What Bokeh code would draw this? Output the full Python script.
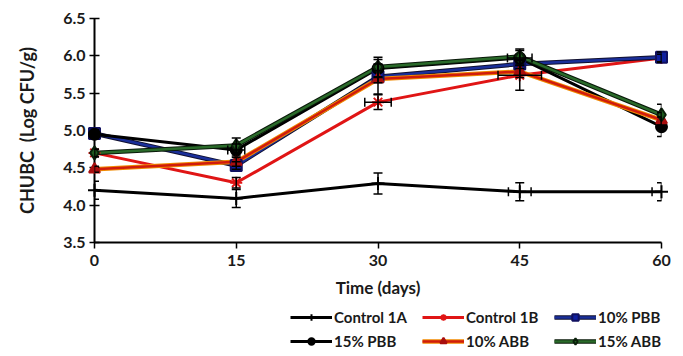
from bokeh.plotting import figure
from bokeh.layouts import column
from bokeh.models import (ColumnDataSource, Whisker, TeeHead, FixedTicker,
                          PrintfTickFormatter, Legend, LegendItem, Range1d)
from bokeh.embed import file_html
from bokeh.resources import INLINE

days = [0, 15, 30, 45, 60]
x_ticks = [0, 15, 30, 45, 60]
y_ticks = [3.5, 4.0, 4.5, 5.0, 5.5, 6.0, 6.5]

series_names = ["Control 1A", "Control 1B", "10% PBB", "15% PBB", "10% ABB", "15% ABB"]
control_1a = [4.20, 4.09, 4.29, 4.18, 4.18]
control_1b = [4.70, 4.30, 5.38, 5.74, 5.97]
pbb_10 = [4.96, 4.53, 5.72, 5.89, 5.98]
pbb_15 = [4.95, 4.74, 5.83, 5.97, 5.05]
abb_10 = [4.48, 4.58, 5.69, 5.79, 5.14]
abb_15 = [4.70, 4.80, 5.85, 5.99, 5.21]

err_1a = [0.12, 0.12, 0.14, 0.12, 0.12]
err_1b = [0.05, 0.07, 0.10, 0.20, 0.05]
err_p10 = [0.05, 0.05, 0.08, 0.06, 0.07]
err_p15 = [0.06, 0.08, 0.12, 0.10, 0.13]
err_a10 = [0.04, 0.06, 0.20, 0.08, 0.10]
err_a15 = [0.05, 0.10, 0.13, 0.10, 0.14]

xerr_1a = [0.0, 0.0, 0.0, 1.2, 1.0]
xerr_1b = [0.0, 0.0, 1.4, 2.3, 0.0]
xerr_p15 = [0.0, 0.9, 0.0, 1.3, 0.0]

FONT = "Lato"

p = figure(width=683, height=300, output_backend="svg", toolbar_location=None,
           x_range=Range1d(0, 60), y_range=Range1d(3.5, 6.5),
           min_border_left=94, min_border_right=22, min_border_top=18,
           min_border_bottom=58)
p.outline_line_color = None
p.xgrid.visible = False
p.ygrid.visible = False
p.background_fill_color = "white"
p.border_fill_color = "white"

p.xaxis.ticker = FixedTicker(ticks=x_ticks)
p.yaxis.ticker = FixedTicker(ticks=y_ticks)
p.yaxis.formatter = PrintfTickFormatter(format="%.1f")
for ax in (p.xaxis, p.yaxis):
    ax.axis_line_color = "black"
    ax.axis_line_width = 2
    ax.major_tick_line_color = "black"
    ax.major_tick_line_width = 1.5
    ax.minor_tick_line_color = None
    ax.major_label_text_font = FONT
    ax.major_label_text_font_size = "16px"
    ax.major_label_text_font_style = "bold"
    ax.major_label_text_color = "#1a1a1a"
    ax.axis_label_text_font = FONT
    ax.axis_label_text_font_size = "17px"
    ax.axis_label_text_font_style = "bold"
    ax.axis_label_text_color = "#1a1a1a"
p.yaxis.axis_label_text_font_size = "18px"
p.yaxis.major_tick_in = 5
p.yaxis.major_tick_out = 5
p.xaxis.major_tick_in = 0
p.xaxis.major_tick_out = 6
p.yaxis.major_label_standoff = 4
p.xaxis.major_label_standoff = 6
p.xaxis.axis_label = "Time (days)"
p.yaxis.axis_label = "CHUBC\u00a0\u00a0(Log CFU/g)"
p.xaxis.axis_label_standoff = 8
p.yaxis.axis_label_standoff = 22

specs = [
    (control_1a, err_1a, xerr_1a, "black", None, "cross", "black", "black", 13),
    (control_1b, err_1b, xerr_1b, "#e01515", None, "asterisk", "#e01515", "#e01515", 12),
    (pbb_10, err_p10, None, "#1a2f9a", "#101030", "square", "#1020a0", "#101060", 11),
    (pbb_15, err_p15, xerr_p15, "black", None, "circle", "black", "black", 11),
    (abb_10, err_a10, None, "#d01c0c", "#f08a00", "triangle", "#a80e0e", "#a80e0e", 11),
    (abb_15, err_a15, None, "#2a6a2a", "#0a1a0a", "diamond", "#1e5a1e", "#0a200a", 13),
]

# legend-only strip below the chart (its ranges show none of the data)
lg = figure(width=683, height=56, output_backend="svg", toolbar_location=None,
            x_range=Range1d(1000, 1001), y_range=Range1d(1000, 1001),
            x_axis_location=None, y_axis_location=None,
            min_border_left=0, min_border_right=0, min_border_top=0, min_border_bottom=0)
lg.outline_line_color = None
lg.xgrid.visible = False
lg.ygrid.visible = False

items = []
for name, (vals, err, xerr, color, outline, marker, fill, mline, msize) in zip(series_names, specs):
    src = ColumnDataSource(dict(
        x=days, y=vals,
        lo=[v - e for v, e in zip(vals, err)],
        hi=[v + e for v, e in zip(vals, err)],
    ))
    rs = []
    for fig, store, sz in ((p, False, msize), (lg, True, msize * 0.8)):
        r = []
        if outline is not None:
            r.append(fig.line("x", "y", source=src, line_color=outline, line_width=4.5))
            r.append(fig.line("x", "y", source=src, line_color=color, line_width=2.5))
        else:
            r.append(fig.line("x", "y", source=src, line_color=color, line_width=3))
        r.append(fig.scatter("x", "y", source=src, marker=marker, size=sz,
                             fill_color=fill, line_color=mline, line_width=2, level="overlay"))
        if store:
            rs = r
    items.append(LegendItem(label=name, renderers=rs))
    p.add_layout(Whisker(source=src, base="x", lower="lo", upper="hi", dimension="height",
                         line_color="black", line_width=1.5, level="overlay",
                         upper_head=TeeHead(size=9, line_color="black", line_width=1.5),
                         lower_head=TeeHead(size=9, line_color="black", line_width=1.5)))
    if xerr is not None:
        xs = ColumnDataSource(dict(
            y=[v for v, e in zip(vals, xerr) if e > 0],
            lo=[d - e for d, e in zip(days, xerr) if e > 0],
            hi=[d + e for d, e in zip(days, xerr) if e > 0],
        ))
        p.add_layout(Whisker(source=xs, base="y", lower="lo", upper="hi", dimension="width",
                             line_color="black", line_width=1.5, level="overlay",
                             upper_head=TeeHead(size=9, line_color="black", line_width=1.5),
                             lower_head=TeeHead(size=9, line_color="black", line_width=1.5)))

legend = Legend(items=items, ncols=3, orientation="horizontal", location=(196, 6))
legend.glyph_width = 42
legend.glyph_height = 16
legend.label_standoff = 2
legend.label_width = 82
legend.spacing = 6
legend.padding = 0
legend.margin = 0
legend.border_line_color = None
legend.background_fill_alpha = 0
legend.label_text_font = FONT
legend.label_text_font_size = "15px"
legend.label_text_font_style = "bold"
legend.label_text_color = "#1a1a1a"
legend.label_height = 16
lg.add_layout(legend, "center")

layout = column(p, lg, spacing=0)
open("out.html", "w").write(file_html(layout, INLINE))
